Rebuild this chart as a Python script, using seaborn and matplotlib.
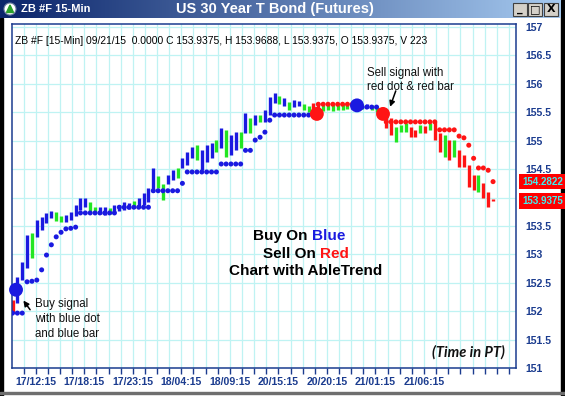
import matplotlib
matplotlib.use("Agg")
import matplotlib.pyplot as plt
from matplotlib.colors import LinearSegmentedColormap
from matplotlib.patches import Rectangle, Circle, Polygon
import numpy as np
import pandas as pd
import seaborn as sns

# ZB #F, one entry per half hour (17/09 12:00 .. 21/09 08:00)
bar_high = [152.20, 152.60, 152.87, 153.34, 153.38, 153.60, 153.66, 153.73, 153.76, 153.75,
            153.68, 153.69, 153.75, 153.87, 153.99, 153.99, 153.92, 153.83, 153.83, 153.83,
            153.82, 153.87, 153.87, 153.92, 153.90, 153.94, 153.99, 154.08, 154.17, 154.52,
            154.38, 154.24, 154.40, 154.48, 154.52, 154.69, 154.80, 154.89, 154.92, 154.83,
            154.92, 154.96, 155.01, 155.22, 155.19, 155.10, 155.15, 155.15, 155.48, 155.40,
            155.45, 155.45, 155.54, 155.76, 155.84, 155.78, 155.75, 155.68, 155.71, 155.69,
            155.64, 155.61, 155.66, 155.66, 155.62, 155.62, 155.64, 155.62, 155.64, 155.62,
            155.66, 155.66, 155.64, 155.64, 155.62, 155.59, 155.57, 155.45, 155.40, 155.24,
            155.27, 155.31, 155.24, 155.19, 155.27, 155.26, 155.31, 155.33, 155.13, 155.10,
            155.01, 155.01, 154.83, 154.75, 154.57, 154.40, 154.40, 154.25, 154.10, 153.97]
bar_low = [151.97, 152.15, 152.55, 152.76, 152.94, 153.31, 153.43, 153.55, 153.64, 153.59,
           153.57, 153.57, 153.60, 153.68, 153.78, 153.83, 153.75, 153.73, 153.71, 153.69,
           153.71, 153.75, 153.76, 153.78, 153.80, 153.82, 153.83, 153.87, 153.92, 154.10,
           154.17, 153.96, 154.24, 154.31, 154.34, 154.52, 154.57, 154.69, 154.66, 154.48,
           154.62, 154.69, 154.80, 154.87, 154.71, 154.75, 154.83, 154.87, 155.13, 155.13,
           155.27, 155.33, 155.33, 155.45, 155.66, 155.64, 155.61, 155.54, 155.59, 155.61,
           155.54, 155.50, 155.54, 155.54, 155.52, 155.54, 155.52, 155.54, 155.54, 155.55,
           155.55, 155.57, 155.55, 155.57, 155.54, 155.50, 155.40, 155.22, 155.10, 154.97,
           155.15, 155.15, 155.06, 155.06, 155.13, 155.13, 155.19, 155.01, 154.80, 154.71,
           154.66, 154.71, 154.54, 154.54, 154.19, 154.13, 154.10, 153.99, 153.83, 153.94]
# bar colour: b = up trend, g = neutral, r = down trend
bar_trend = list("rbbbgbbbbg" "gbbbbbggbb" "gbbbbgbbbb" "ggbbgbbbgb" "bbgbgbbgbg"
                 "bgbbbgbgbb" "ggrrgggggg" "bbgbggrrrg" "ggrrgrgrrg" "rgrrrrgrrr")

# AbleTrend stop dots
stop_price = [151.97, 151.97, 151.97, 152.52, 152.53, 152.55, 152.73, 152.99, 153.17, 153.31,
              153.39, 153.45, 153.46, 153.48, 153.73, 153.73, 153.73, 153.73, 153.73, 153.73,
              153.73, 153.73, 153.83, 153.83, 153.83, 153.83, 153.83, 153.83, 153.83, 154.12,
              154.12, 154.12, 154.12, 154.12, 154.12, 154.25, 154.45, 154.45, 154.45, 154.45,
              154.45, 154.45, 154.45, 154.59, 154.59, 154.59, 154.59, 154.59, 154.83, 154.83,
              155.01, 155.06, 155.15, 155.36, 155.45, 155.45, 155.45, 155.45, 155.45, 155.45,
              155.45, 155.45, 155.45, 155.64, 155.64, 155.64, 155.64, 155.64, 155.64, 155.64,
              155.64, np.nan, 155.59, 155.59, 155.59, 155.59, np.nan, 155.33, 155.33, 155.33,
              155.33, 155.33, 155.33, 155.33, 155.33, 155.33, 155.33, 155.33, 155.19, 155.19,
              155.19, 155.19, 155.08, 155.05, 154.92, 154.69, 154.52, 154.52, 154.48, 154.28]
stop_side = list("bbbbbbbbbb" "bbbbbbbbbb" "bbbbbbbbbb" "bbbbbbbbbb" "bbbbbbbbbb"
                 "bbbbbbbbbb" "bbbrrrrrrr" "rbbbbbrrrr" "rrrrrrrrrr" "rrrrrrrrrr")

# big signal dots
signal_bar = [0.72, 62.7, 70.97, 76.33]
signal_price = [152.38, 155.47, 155.62, 155.47]
signal_side = ["b", "r", "b", "r"]

tick_labels = ["17/12:15", "17/18:15", "17/23:15", "18/04:15", "18/09:15",
               "20/15:15", "20/20:15", "21/01:15", "21/06:15"]
last_stop = 154.2822
last_close = 153.9375
header = ("ZB #F [15-Min] 09/21/15  0.0000 C 153.9375, H 153.9688, "
          "L 153.9375, O 153.9375, V 223")

sns.set_theme(style="white")
plt.rcParams["font.family"] = ["Liberation Sans", "DejaVu Sans"]

colors = {"b": "#1a1ae0", "g": "#22e622", "r": "#ff1414"}
navy = "#1b3c8f"
grid_c = "#bff3f3"

W, H = 565, 396


def px_box(left, top, right, bottom):
    return [left / W, 1 - bottom / H, (right - left) / W, (bottom - top) / H]


fig = plt.figure(figsize=(W / 100, H / 100), dpi=100)
fig.patch.set_facecolor("white")

# window chrome
frame = fig.add_axes([0, 0, 1, 1], zorder=-1)
frame.set_xlim(0, W)
frame.set_ylim(H, 0)
frame.axis("off")
frame.add_patch(Rectangle((0, 18), 3, H - 18, color="black"))
frame.add_patch(Rectangle((561, 0), 4, H, color="black"))
frame.add_patch(Rectangle((0, 392), W, 1.5, color="#6e6e6e"))

tb = fig.add_axes(px_box(0, 0, 561, 18))
tb_cmap = LinearSegmentedColormap.from_list("tb", ["#0a246a", "#a6caf0"])
tb.imshow(np.linspace(0, 1, 256)[None, :], aspect="auto", cmap=tb_cmap,
          extent=(0, 561, 18, 0))
tb.set_xlim(0, 561)
tb.set_ylim(18, 0)
tb.axis("off")
tb.add_patch(Circle((10, 9), 6, facecolor="white", edgecolor="#6a7aa0", lw=0.8))
tb.add_patch(Polygon([[6.5, 12.5], [13.5, 12.5], [10, 5]], color="#2aa02a"))
tb.text(21, 9.3, "ZB #F 15-Min", color="white", fontsize=8, fontweight="bold",
        ha="left", va="center")
tb.text(275, 9.3, "US 30 Year T Bond (Futures)", color="white", fontsize=10.5,
        fontweight="bold", ha="center", va="center")
for bx, sym in zip([513, 528, 544], ["_", "□", "X"]):
    tb.add_patch(Rectangle((bx, 2.5), 14, 13, facecolor="#d4d0c8",
                           edgecolor="#404040", lw=0.8))
    tb.text(bx + 7, 9.5, sym, color="black", fontsize=8, fontweight="bold",
            ha="center", va="center", family=["DejaVu Sans"])

# main chart
ax = fig.add_axes(px_box(11.5, 24, 516, 368.3))
ax.set_facecolor("white")

bars = pd.DataFrame({"bar": np.arange(len(bar_high)), "high": bar_high,
                     "low": bar_low, "trend": bar_trend})
stops = pd.DataFrame({"bar": np.arange(len(stop_price)), "stop": stop_price,
                      "side": stop_side}).dropna()
signals = pd.DataFrame({"bar": signal_bar, "price": signal_price, "side": signal_side})

ax.vlines(bars["bar"], bars["low"], bars["high"],
          colors=bars["trend"].map(colors), linewidth=2.4, zorder=2)
sns.scatterplot(data=stops, x="bar", y="stop", hue="side", palette=colors,
                s=13, linewidth=0, legend=False, ax=ax, zorder=3)
sig = sns.scatterplot(data=signals, x="bar", y="price", hue="side", palette=colors,
                      s=100, linewidth=0, legend=False, ax=ax, zorder=4)
ax.collections[-1].set_clip_on(False)

ax.set_xlim(-0.21, 103.73)
ax.set_ylim(151, 157.05)
ax.set_xlabel("")
ax.set_ylabel("")

first_tick = 4.78
major = [first_tick + 10 * k for k in range(len(tick_labels))]
minor = [first_tick - 2.5 + 2.5 * k for k in range(41)]
ax.set_xticks(major)
ax.set_xticklabels(tick_labels)
ax.set_xticks(minor, minor=True)
yvals = np.arange(151, 157.01, 0.5)
ax.set_yticks(yvals)
# the 154 label sits under the last-price box
ax.set_yticklabels(["" if v == 154 else f"{v:g}" for v in yvals])
ax.yaxis.tick_right()

ax.tick_params(axis="x", which="both", direction="out", length=4, width=1,
               color=navy, bottom=True, labelsize=7.6, labelcolor=navy, pad=2.5)
ax.tick_params(axis="y", length=0, labelsize=7.6, labelcolor=navy, pad=7)
for lab in ax.get_xticklabels() + ax.get_yticklabels():
    lab.set_fontweight("bold")

ax.grid(True, which="both", axis="x", color=grid_c, lw=0.9)
ax.grid(True, which="major", axis="y", color=grid_c, lw=0.9)
ax.set_axisbelow(True)
for sp in ax.spines.values():
    sp.set_color(navy)
    sp.set_linewidth(1.1)

ax.text(0.007, 0.95, header, transform=ax.transAxes, fontsize=7.4,
        color="black", ha="left", va="center")

# right-side value boxes
for val in [last_stop, last_close]:
    ax.text(1.012, val, f"{val:.4f}", transform=ax.get_yaxis_transform(),
            fontsize=7.0, fontweight="bold", color="#3ff0f0", ha="left",
            va="center", clip_on=False, zorder=6,
            bbox=dict(boxstyle="square,pad=0.28", fc="#ff0000", ec="none"))

# annotations
ax.annotate("", xy=(1.9, 152.23), xytext=(3.96, 151.99),
            arrowprops=dict(arrowstyle="-|>", color="black", lw=1.1,
                            mutation_scale=8))
ax.annotate("", xy=(77.6, 155.55), xytext=(79.15, 155.92),
            arrowprops=dict(arrowstyle="-|>", color="black", lw=1.1,
                            mutation_scale=8))

ov = fig.add_axes([0, 0, 1, 1], zorder=5)
ov.set_xlim(0, W)
ov.set_ylim(H, 0)
ov.axis("off")
ov.text(35, 319, "Buy signal\nwith blue dot\nand blue bar", fontsize=8.3,
        ha="left", va="center", linespacing=1.3, color="#111111")
ov.text(367, 80, "Sell signal with\nred dot & red bar", fontsize=8.3,
        ha="left", va="center", linespacing=1.3, color="#111111")

big = dict(fontsize=11, fontweight="bold", va="center")
ov.text(312, 236, "Buy On ", ha="right", color="black", **big)
ov.text(312, 236, "Blue", ha="left", color="#1a1ae0", **big)
ov.text(320, 253.5, "Sell On ", ha="right", color="black", **big)
ov.text(320, 253.5, "Red", ha="left", color="#ff1414", **big)
ov.text(306, 271, "Chart with AbleTrend", ha="center", color="black", **big)
ov.text(505, 352, "(Time in PT)", ha="right", va="center", fontsize=10.5,
        fontweight="bold", style="italic", family=["Lato", "DejaVu Sans"],
        color="#111111")

fig.savefig("out.png", dpi=100)
